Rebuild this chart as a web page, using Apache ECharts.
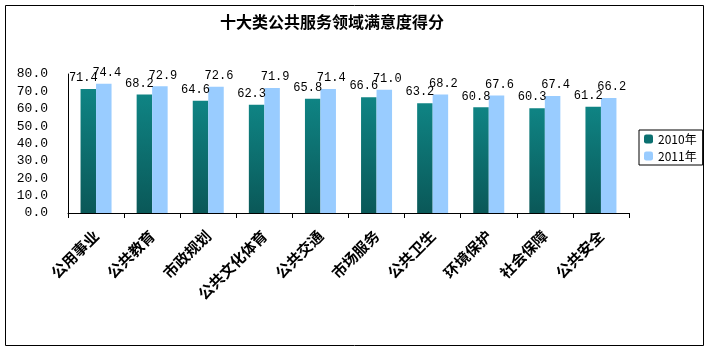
<!DOCTYPE html>
<html>
<head>
<meta charset="utf-8">
<script src="https://cdn.jsdelivr.net/npm/echarts@6/dist/echarts.min.js"></script>
<style>
  html, body { margin: 0; padding: 0; background: #fff; }
  #main { width: 710px; height: 352px; }
</style>
</head>
<body>
<div id="main"></div>
<script>
// categories and scores
const categories = ['公用事业', '公共教育', '市政规划', '公共文化体育', '公共交通', '市场服务', '公共卫生', '环境保护', '社会保障', '公共安全'];
const score2010 = [71.4, 68.2, 64.6, 62.3, 65.8, 66.6, 63.2, 60.8, 60.3, 61.2];
const score2011 = [74.4, 72.9, 72.6, 71.9, 71.4, 71.0, 68.2, 67.6, 67.4, 66.2];
const yTicks = [0, 10, 20, 30, 40, 50, 60, 70, 80];

const chart = echarts.init(document.getElementById('main'));

function valueLabel(dx) {
    return {
        show: true,
        position: 'top',
        distance: 5,
        offset: [dx, 0],
        color: '#000',
        fontFamily: 'Liberation Mono',
        fontSize: 12,
        formatter: p => p.value.toFixed(1)
    };
}

chart.setOption({
    backgroundColor: '#fff',
    animation: false,
    title: {
        text: '十大类公共服务领域满意度得分',
        left: 327,
        textAlign: 'center',
        top: 9,
        textStyle: {
            fontFamily: 'Noto Sans CJK SC',
            fontSize: 16,
            fontWeight: 'bold',
            color: '#000'
        }
    },
    graphic: [{
        type: 'rect',
        shape: { x: 5.5, y: 5.5, width: 698, height: 340 },
        style: { fill: 'none', stroke: '#000', lineWidth: 1 },
        silent: true
    }],
    legend: {
        orient: 'vertical',
        left: 639,
        top: 130,
        itemWidth: 9,
        itemHeight: 9,
        itemGap: 5,
        padding: [3, 6, 3, 5],
        borderColor: '#000',
        borderWidth: 1,
        textStyle: { fontFamily: 'Noto Sans CJK SC', fontSize: 12, color: '#000' },
        data: [
            { name: '2010年', itemStyle: { color: '#0b7070' } },
            { name: '2011年', itemStyle: { color: '#99ccff' } }
        ]
    },
    grid: { left: 68, right: 81, top: 74, bottom: 139 },
    xAxis: {
        type: 'category',
        data: categories,
        axisLine: { lineStyle: { color: '#000', width: 1 } },
        axisTick: { show: true, inside: false, length: 5, lineStyle: { color: '#000' } },
        axisLabel: {
            rotate: 45,
            interval: 0,
            margin: 20,
            color: '#000',
            fontFamily: 'Noto Sans CJK SC',
            fontSize: 15,
            fontWeight: 'bold'
        }
    },
    yAxis: {
        type: 'value',
        min: yTicks[0],
        max: yTicks[yTicks.length - 1],
        interval: 10,
        axisLine: { show: true, lineStyle: { color: '#000', width: 1 } },
        axisTick: { show: false },
        splitLine: { show: false },
        axisLabel: {
            margin: 20,
            color: '#000',
            fontFamily: 'Liberation Mono',
            fontSize: 13,
            formatter: v => v.toFixed(1)
        }
    },
    series: [
        {
            name: '2010年',
            type: 'bar',
            data: score2010,
            barWidth: 15.5,
            barGap: '0%',
            itemStyle: {
                color: new echarts.graphic.LinearGradient(0, 0, 0, 1, [
                    { offset: 0, color: '#0f8484' },
                    { offset: 1, color: '#0a5858' }
                ])
            },
            label: valueLabel(-5)
        },
        {
            name: '2011年',
            type: 'bar',
            data: score2011,
            barWidth: 15.5,
            itemStyle: { color: '#99ccff' },
            label: valueLabel(3)
        }
    ]
});
</script>
</body>
</html>
